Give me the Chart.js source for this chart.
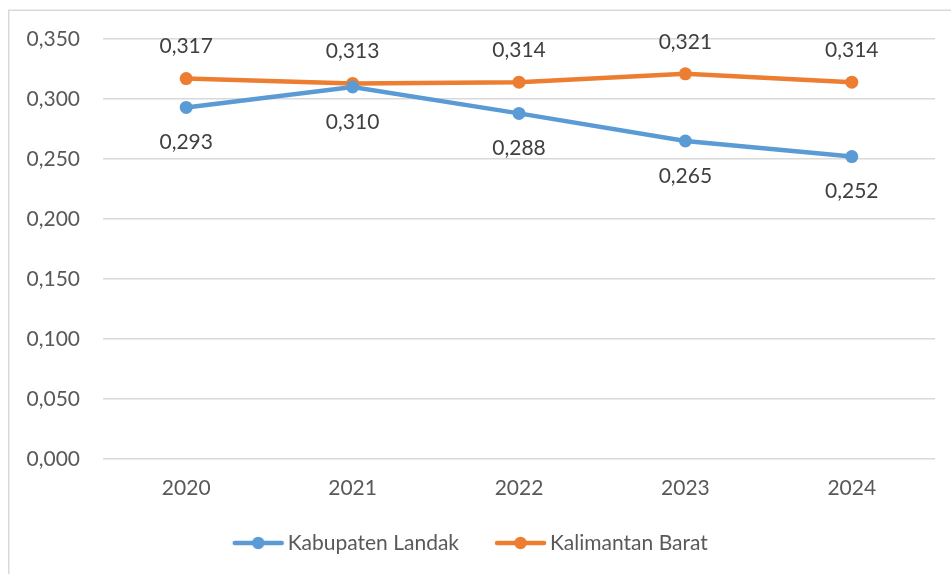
<!DOCTYPE html>
<html><head><meta charset="utf-8">
<script src="https://cdn.jsdelivr.net/npm/chart.js@4.4.1/dist/chart.umd.min.js"></script>
<style>html,body{margin:0;padding:0;background:#fff;}#wrap{width:951px;height:574px;}</style>
</head><body><div id="wrap"><canvas id="c" width="951" height="574"></canvas></div>
<script>
const categories = ['2020','2021','2022','2023','2024'];
const landak = [0.293, 0.310, 0.288, 0.265, 0.252];
const kalbar = [0.317, 0.313, 0.314, 0.321, 0.314];
const seriesNames = ['Kabupaten Landak', 'Kalimantan Barat'];
const yTicks = [0, 0.05, 0.10, 0.15, 0.20, 0.25, 0.30, 0.35];

const BLUE = '#5B9BD5', ORANGE = '#ED7D31';
const FONT = 'Lato';
const FS = 21;
const fmt = v => v.toFixed(3).replace('.', ',');

// legend marker: 53px line+dot drawn at the right end of a 65px transparent image
function marker(color){
  const c = document.createElement('canvas');
  c.width = 65; c.height = 14;
  const x = c.getContext('2d');
  const o = 12;
  x.strokeStyle = color; x.lineWidth = 4.5; x.lineCap = 'round';
  x.beginPath(); x.moveTo(o+3,7); x.lineTo(o+50,7); x.stroke();
  x.fillStyle = color; x.beginPath(); x.arc(o+26.5,7,6.2,0,Math.PI*2); x.fill();
  return c;
}

const framePlugin = {
  id:'frame',
  beforeDraw(chart){
    const ctx = chart.ctx;
    ctx.save();
    ctx.fillStyle = '#fff'; ctx.fillRect(0,0,chart.width,chart.height);
    ctx.strokeStyle = '#D9D9D9'; ctx.lineWidth = 1.5;
    ctx.strokeRect(8.75, 10.25, chart.width + 20, chart.height + 20);
    ctx.restore();
  }
};
const labelPlugin = {
  id:'dlabels',
  afterDatasetsDraw(chart){
    const ctx = chart.ctx;
    ctx.save();
    ctx.font = FS + 'px ' + FONT;
    ctx.fillStyle = '#404040';
    ctx.textAlign = 'center'; ctx.textBaseline = 'middle';
    chart.data.datasets.forEach((ds, di) => {
      const meta = chart.getDatasetMeta(di);
      meta.data.forEach((pt, i) => {
        const off = di === 0 ? 35 : -32;
        ctx.fillText(fmt(ds.data[i]), pt.x, pt.y + off);
      });
    });
    ctx.restore();
  }
};

const LP = 30.5;
new Chart(document.getElementById('c'), {
  type:'line',
  data:{
    labels: categories,
    datasets:[
      {label: seriesNames[0], data: landak, borderColor: BLUE, backgroundColor: BLUE, borderWidth: 4.5,
       pointRadius: 6.5, pointHoverRadius: 6.5, pointBackgroundColor: BLUE, pointBorderWidth: 0, tension: 0},
      {label: seriesNames[1], data: kalbar, borderColor: ORANGE, backgroundColor: ORANGE, borderWidth: 4.5,
       pointRadius: 6.5, pointHoverRadius: 6.5, pointBackgroundColor: ORANGE, pointBorderWidth: 0, tension: 0}
    ]
  },
  options:{
    responsive:false, animation:false, devicePixelRatio:1,
    layout:{padding:{top:39, right:16, left:0, bottom:10.5}},
    plugins:{
      tooltip:{enabled:false},
      legend:{
        position:'bottom',
        labels:{
          usePointStyle:true, pointStyleWidth:50, padding:LP,
          color:'#595959', font:{family:FONT, size:FS},
          generateLabels(chart){
            return chart.data.datasets.map((ds,i)=>({
              text: ds.label, pointStyle: marker(ds.borderColor), fillStyle: ds.borderColor,
              strokeStyle: ds.borderColor, lineWidth:0, hidden:false, datasetIndex:i, fontColor:'#595959'
            }));
          }
        }
      }
    },
    scales:{
      x:{
        offset:true,
        grid:{display:false, drawTicks:false},
        border:{display:false},
        ticks:{color:'#595959', font:{family:FONT, size:FS}, padding:17},
        afterFit(s){ s.height = 43; }
      },
      y:{
        min:0, max:0.35,
        afterBuildTicks(s){ s.ticks = yTicks.map(v=>({value:v})); },
        grid:{color:'#D9D9D9', lineWidth:1.5, drawTicks:false},
        border:{display:false},
        ticks:{color:'#595959', font:{family:FONT, size:FS}, padding:23, callback:v=>fmt(v)},
        afterFit(s){ s.width = 103; }
      }
    }
  },
  plugins:[framePlugin, labelPlugin]
});
</script></body></html>
